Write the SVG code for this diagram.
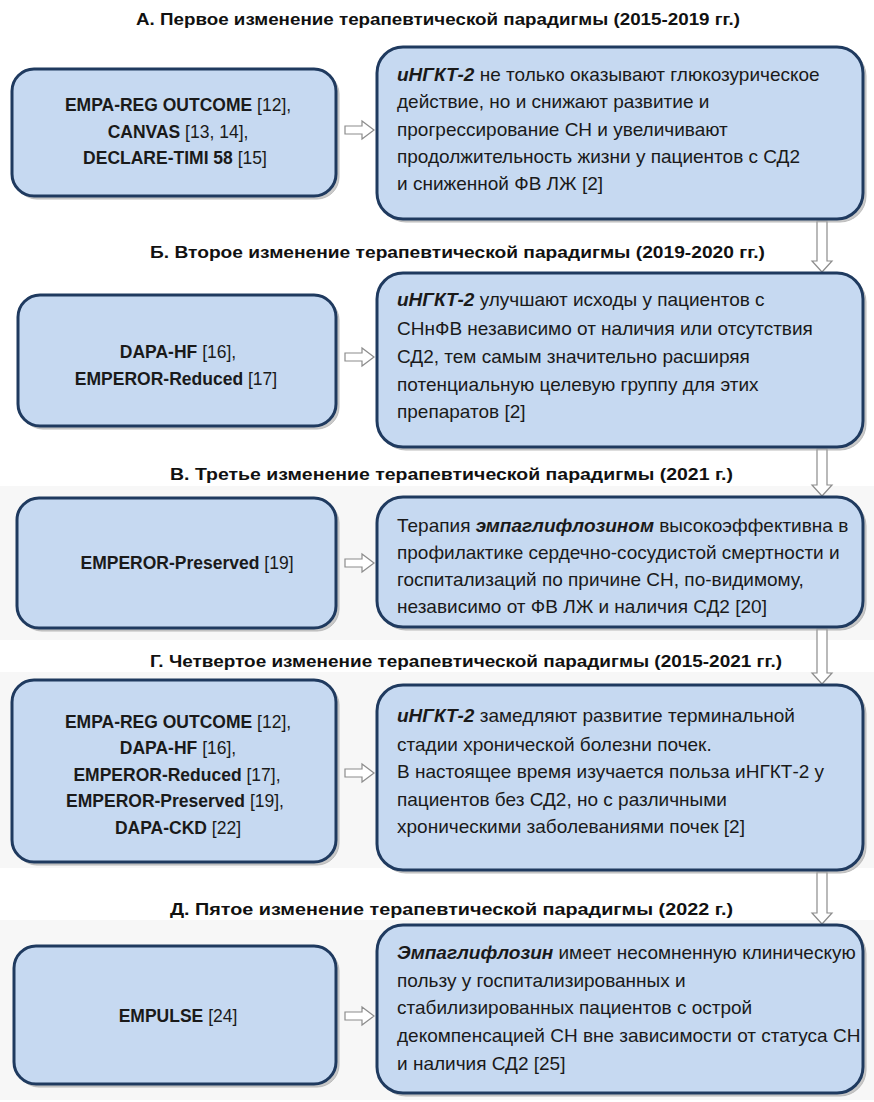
<svg xmlns="http://www.w3.org/2000/svg" width="874" height="1102" viewBox="0 0 874 1102">
<style>
.box{fill:#C6D9F1;stroke:#1F3A5F;stroke-width:3}
.sh{fill:#b5b5b5;stroke:#a0a0a0;stroke-width:1;opacity:0.7}
.ttl{font-family:"Liberation Sans",Arial,sans-serif;font-weight:bold;font-size:17px;fill:#111}
.bd{font-family:"Liberation Sans",Arial,sans-serif;font-size:19px;fill:#1a1a1a}
.lb{font-family:"Liberation Sans",Arial,sans-serif;font-size:17.5px;fill:#1a1a1a;text-anchor:middle}
.b{font-weight:bold}
.bi{font-weight:bold;font-style:italic}
.arr{fill:#ffffff;stroke:#8c8c8c;stroke-width:1.2}
.band{fill:#f7f7f7}
</style>
<rect x="0" y="0" width="874" height="1102" fill="#ffffff"/>
<rect class="band" x="0" y="486" width="874" height="154"/>
<rect class="band" x="0" y="672" width="874" height="196"/>
<rect class="band" x="0" y="920" width="874" height="180"/>

<g id="titles">
<text class="ttl" x="136" y="25" textLength="604" lengthAdjust="spacingAndGlyphs">А. Первое изменение терапевтической парадигмы (2015-2019 гг.)</text>
<text class="ttl" x="150" y="258" textLength="615" lengthAdjust="spacingAndGlyphs">Б. Второе изменение терапевтической парадигмы (2019-2020 гг.)</text>
<text class="ttl" x="170" y="480" textLength="563" lengthAdjust="spacingAndGlyphs">В. Третье изменение терапевтической парадигмы (2021 г.)</text>
<text class="ttl" x="150" y="667" textLength="632" lengthAdjust="spacingAndGlyphs">Г. Четвертое изменение терапевтической парадигмы (2015-2021 гг.)</text>
<text class="ttl" x="170" y="915" textLength="563" lengthAdjust="spacingAndGlyphs">Д. Пятое изменение терапевтической парадигмы (2022 г.)</text>
</g>

<g id="connectors">
<path class="arr" d="M345,126 H362 V121 L374,130 L362,139 V134 H345 Z"/>
<path class="arr" d="M345,353 H362 V348 L374,357 L362,366 V361 H345 Z"/>
<path class="arr" d="M345,559 H362 V554 L374,563 L362,572 V567 H345 Z"/>
<path class="arr" d="M345,769 H362 V764 L374,773 L362,782 V777 H345 Z"/>
<path class="arr" d="M345,1012 H362 V1007 L374,1016 L362,1025 V1020 H345 Z"/>
<path class="arr" d="M817,221 V261 H812 L822,272 L832,261 H827 V221 Z"/>
<path class="arr" d="M817,449 V485 H812 L822,496 L832,485 H827 V449 Z"/>
<path class="arr" d="M817,629 V673 H812 L822,684 L832,673 H827 V629 Z"/>
<path class="arr" d="M817,872 V913 H812 L822,924 L832,913 H827 V872 Z"/>
</g>

<g id="a-left">
<rect class="sh" x="15" y="72" width="324" height="127" rx="22"/>
<rect class="box" x="12" y="69" width="324" height="127" rx="22"/>
<text class="lb" x="178" y="111"><tspan class="b">EMPA-REG OUTCOME</tspan> [12],</text>
<text class="lb" x="178" y="138"><tspan class="b">CANVAS</tspan> [13, 14],</text>
<text class="lb" x="175" y="164"><tspan class="b">DECLARE-TIMI 58</tspan> [15]</text>
</g>
<g id="a-right">
<rect class="sh" x="380" y="50" width="486" height="172" rx="26"/>
<rect class="box" x="377" y="47" width="486" height="172" rx="26"/>
<text class="bd" x="397" y="81"><tspan class="bi">иНГКТ-2</tspan> не только оказывают глюкозурическое</text>
<text class="bd" x="397" y="108">действие, но и снижают развитие и</text>
<text class="bd" x="397" y="136">прогрессирование СН и увеличивают</text>
<text class="bd" x="397" y="163">продолжительность жизни у пациентов с СД2</text>
<text class="bd" x="397" y="190">и сниженной ФВ ЛЖ [2]</text>
</g>

<g id="b-left">
<rect class="sh" x="21" y="298" width="318" height="131" rx="22"/>
<rect class="box" x="18" y="295" width="318" height="131" rx="22"/>
<text class="lb" x="178" y="358"><tspan class="b">DAPA-HF</tspan> [16],</text>
<text class="lb" x="176" y="385"><tspan class="b">EMPEROR-Reduced</tspan> [17]</text>
</g>
<g id="b-right">
<rect class="sh" x="380" y="276" width="486" height="174" rx="26"/>
<rect class="box" x="377" y="273" width="486" height="174" rx="26"/>
<text class="bd" x="397" y="306"><tspan class="bi">иНГКТ-2</tspan> улучшают исходы у пациентов с</text>
<text class="bd" x="397" y="335">СНнФВ независимо от наличия или отсутствия</text>
<text class="bd" x="397" y="363">СД2, тем самым значительно расширяя</text>
<text class="bd" x="397" y="391">потенциальную целевую группу для этих</text>
<text class="bd" x="397" y="418">препаратов [2]</text>
</g>

<g id="c-left">
<rect class="sh" x="20" y="501" width="319" height="130" rx="22"/>
<rect class="box" x="17" y="498" width="319" height="130" rx="22"/>
<text class="lb" x="187" y="569"><tspan class="b">EMPEROR-Preserved</tspan> [19]</text>
</g>
<g id="c-right">
<rect class="sh" x="380" y="500" width="486" height="130" rx="26"/>
<rect class="box" x="377" y="497" width="486" height="130" rx="26"/>
<text class="bd" x="397" y="532">Терапия <tspan class="bi">эмпаглифлозином</tspan> высокоэффективна в</text>
<text class="bd" x="397" y="559">профилактике сердечно-сосудистой смертности и</text>
<text class="bd" x="397" y="586">госпитализаций по причине СН, по-видимому,</text>
<text class="bd" x="397" y="613">независимо от ФВ ЛЖ и наличия СД2 [20]</text>
</g>

<g id="d-left">
<rect class="sh" x="15" y="683" width="324" height="182" rx="22"/>
<rect class="box" x="12" y="680" width="324" height="182" rx="22"/>
<text class="lb" x="178" y="728"><tspan class="b">EMPA-REG OUTCOME</tspan> [12],</text>
<text class="lb" x="178" y="754"><tspan class="b">DAPA-HF</tspan> [16],</text>
<text class="lb" x="177" y="781"><tspan class="b">EMPEROR-Reduced</tspan> [17],</text>
<text class="lb" x="175" y="807"><tspan class="b">EMPEROR-Preserved</tspan> [19],</text>
<text class="lb" x="178" y="834"><tspan class="b">DAPA-CKD</tspan> [22]</text>
</g>
<g id="d-right">
<rect class="sh" x="380" y="688" width="486" height="185" rx="26"/>
<rect class="box" x="377" y="685" width="486" height="185" rx="26"/>
<text class="bd" x="397" y="722"><tspan class="bi">иНГКТ-2</tspan> замедляют развитие терминальной</text>
<text class="bd" x="397" y="751">стадии хронической болезни почек.</text>
<text class="bd" x="397" y="778">В настоящее время изучается польза иНГКТ-2 у</text>
<text class="bd" x="397" y="806">пациентов без СД2, но с различными</text>
<text class="bd" x="397" y="833">хроническими заболеваниями почек [2]</text>
</g>

<g id="e-left">
<rect class="sh" x="17" y="949" width="322" height="138" rx="22"/>
<rect class="box" x="14" y="946" width="322" height="138" rx="22"/>
<text class="lb" x="178" y="1022"><tspan class="b">EMPULSE</tspan> [24]</text>
</g>
<g id="e-right">
<rect class="sh" x="380" y="928" width="486" height="168" rx="26"/>
<rect class="box" x="377" y="925" width="486" height="168" rx="26"/>
<text class="bd" x="397" y="959"><tspan class="bi">Эмпаглифлозин</tspan> имеет несомненную клиническую</text>
<text class="bd" x="397" y="987">пользу у госпитализированных и</text>
<text class="bd" x="397" y="1014">стабилизированных пациентов с острой</text>
<text class="bd" x="397" y="1042">декомпенсацией СН вне зависимости от статуса СН</text>
<text class="bd" x="397" y="1070">и наличия СД2 [25]</text>
</g>
</svg>
